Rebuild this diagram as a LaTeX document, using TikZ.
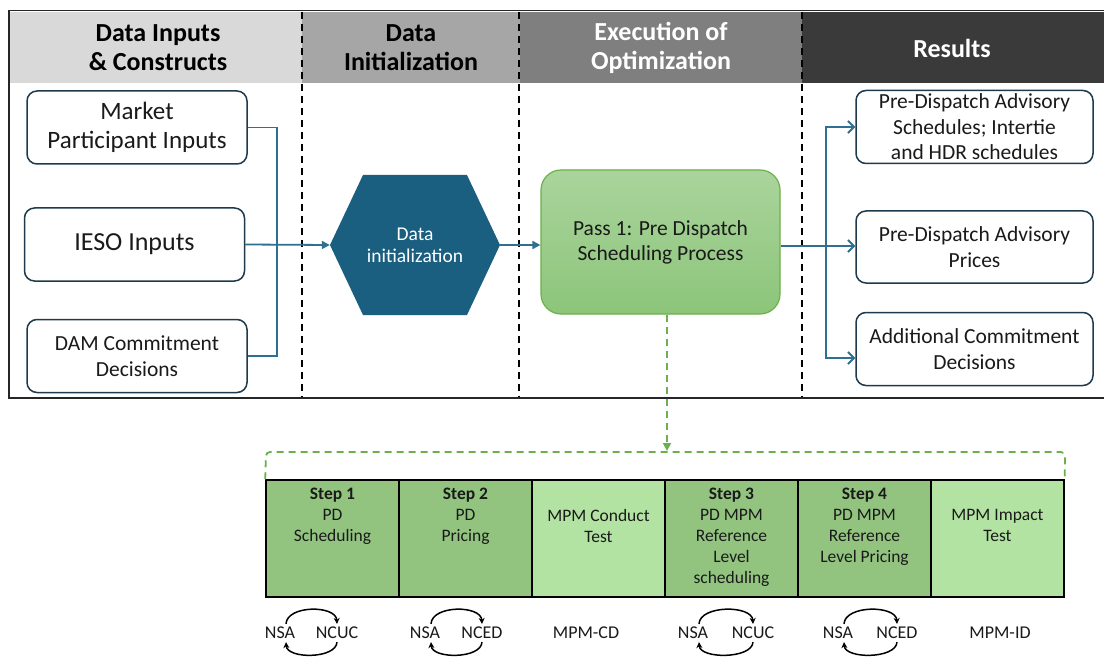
\documentclass[tikz,border=0pt]{standalone}
\usepackage{fontspec}
\setmainfont{Carlito}
\usetikzlibrary{arrows.meta,calc}
\definecolor{hdA}{HTML}{D9D9D9}
\definecolor{hdB}{HTML}{A6A6A6}
\definecolor{hdC}{HTML}{7F7F7F}
\definecolor{hdD}{HTML}{3A3A3A}
\definecolor{boxcol}{HTML}{1E3A4C}
\definecolor{linecol}{HTML}{2F6F8F}
\definecolor{hexfill}{HTML}{1A5E80}
\definecolor{greenA}{HTML}{AAD49C}
\definecolor{greenB}{HTML}{8CC57A}
\definecolor{greenE}{HTML}{6CB04B}
\definecolor{stepfill}{HTML}{92C480}
\definecolor{mpmfill}{HTML}{B3E3A2}
\definecolor{txt}{HTML}{1A1A1A}
\begin{document}
\begin{tikzpicture}[x=1pt,y=-1pt,
  hdtext/.style={font=\fontsize{26}{29}\selectfont\bfseries, align=center, inner sep=0pt},
  inbox/.style={draw=boxcol, line width=1.5pt, rounded corners=10pt, fill=white, align=center, text=txt, minimum width=220pt, minimum height=73pt, inner sep=0pt},
  resbox/.style={draw=boxcol, line width=1.5pt, rounded corners=10pt, fill=white, align=center, text=txt, minimum width=237pt, minimum height=73pt, inner sep=0pt, font=\fontsize{21.5}{25.5}\selectfont},
  conn/.style={draw=linecol, line width=1.8pt},
  fillarrow/.style={-{Triangle[length=8pt,width=8pt]}},
  openarrow/.style={-{Straight Barb[length=6pt,width=12pt,line width=1.8pt]}},
  colsep/.style={draw=black, line width=1.6pt, dash pattern=on 7pt off 5pt},
  gdash/.style={draw=greenE, line width=1.8pt, dash pattern=on 7pt off 5pt},
  stepbox/.style={draw=black, line width=1.5pt, minimum width=133pt, minimum height=117pt, inner sep=0pt},
  steptext/.style={align=center, inner sep=0pt, anchor=north, text=txt, font=\fontsize{17.5}{20.8}\selectfont},
  lbl/.style={inner sep=2pt, text=txt, font=\fontsize{18}{20}\selectfont},
  cyc/.style={draw=black, line width=1.5pt, -{Stealth[length=6pt,width=6pt]}}
]
\useasboundingbox (0,0) rectangle (1104,658);
\fill[white] (0,0) rectangle (1104,658);
% header band
\fill[hdA] (10,12) rectangle (302,83);
\fill[hdB] (302,12) rectangle (520,83);
\fill[hdC] (520,12) rectangle (802,83);
\fill[hdD] (802,12) rectangle (1104,83);
% frame
\draw[line width=1.8pt, draw=black!85] (1106,10.5) -- (9,10.5) -- (9,398) -- (1106,398);
% column separators
\draw[colsep] (302,12) -- (302,397);
\draw[colsep] (519,12) -- (519,397);
\draw[colsep] (802,12) -- (802,397);
% header texts
\node[hdtext, text=black] (h1) at (158,47.5) {Data Inputs\\\&\ Constructs};
\node[hdtext, text=black] (h2) at (411,47.5) {Data\\Initialization};
\node[hdtext, text=white] (h3) at (661,47.5) {Execution of\\Optimization};
\node[hdtext, text=white] (h4) at (952,48) {Results};
% input boxes
\node[inbox, font=\fontsize{25}{29}\selectfont] (mpi) at (137,127.5) {Market\\Participant Inputs};
\node[inbox, font=\fontsize{26}{29}\selectfont] (ieso) at (134.5,244.5) {IESO Inputs};
\node[inbox, font=\fontsize{21.5}{26}\selectfont] (dam) at (137,356) {DAM Commitment\\Decisions};
\coordinate (j) at (277,245);
\draw[conn] (mpi.east) -| (j);
\draw[conn] (dam.east) -| (j);
% hexagon
\fill[hexfill] (330,245) -- (363,175) -- (467,175) -- (500,245) -- (467,315) -- (363,315) -- cycle;
\node[text=white, align=center, minimum width=170pt, minimum height=140pt, inner sep=0pt, font=\fontsize{19.5}{22}\selectfont] (hex) at (415,245) {Data\\initialization};
\draw[conn, fillarrow] (ieso.east) -- (hex.west);
% pass 1 box
\node[draw=greenE, line width=1.2pt, rounded corners=20pt, top color=greenA, bottom color=greenB, minimum width=239pt, minimum height=144pt, inner sep=0pt, align=center, text=txt, font=\fontsize{21.5}{25}\selectfont] (pass) at (660.5,242) {Pass 1: Pre Dispatch\\Scheduling Process};
\draw[conn, fillarrow] (hex.east) -- (pass.west |- hex.east);
% result boxes
\node[resbox] (sched) at (974.5,127) {Pre-Dispatch Advisory\\Schedules; Intertie\\and HDR schedules};
\node[resbox, minimum height=72pt] (prices) at (974.5,247) {Pre-Dispatch Advisory\\Prices};
\node[resbox] (addc) at (974.5,349) {Additional Commitment\\Decisions};
\coordinate (br) at (826,246);
\draw[conn, openarrow] (pass.east |- br) -- (prices.west |- br);
\draw[conn, openarrow] (br) |- (sched.west);
\draw[conn, openarrow] (br) |- ([yshift=-9pt]addc.west);
% bottom steps
\node[stepbox, fill=stepfill] (s1) at (332.5,538.5) {};
\node[stepbox, fill=stepfill] (s2) at (465.5,538.5) {};
\node[stepbox, fill=mpmfill] (mc) at (598.5,538.5) {};
\node[stepbox, fill=stepfill] (s3) at (731.5,538.5) {};
\node[stepbox, fill=stepfill] (s4) at (864.5,538.5) {};
\node[stepbox, fill=mpmfill] (mi) at (997.5,538.5) {};
\node[steptext] (t1) at ([yshift=-9pt]s1.north) {\textbf{Step 1}\\PD\\Scheduling};
\node[steptext] (t2) at ([yshift=-9pt]s2.north) {\textbf{Step 2}\\PD\\Pricing};
\node[steptext] (t3) at ([yshift=-30pt]mc.north) {MPM Conduct\\Test};
\node[steptext] (t4) at ([yshift=-9pt]s3.north) {\textbf{Step 3}\\PD MPM\\Reference\\Level\\scheduling};
\node[steptext] (t5) at ([yshift=-9pt]s4.north) {\textbf{Step 4}\\PD MPM\\Reference\\Level Pricing};
\node[steptext] (t6) at ([yshift=-30pt]mi.north) {MPM Impact\\Test};
% green dashed link and bracket
\coordinate (bt) at (667,451);
\draw[gdash, rounded corners=4pt] (s1.north west) -- (266,452) -- (1065,452) -- (mi.north east);
\draw[gdash, -{Triangle[length=8pt,width=8pt]}] ([xshift=6.5pt]pass.south) -- (bt);
% labels and cycles
\node[lbl] (nsa1) at (280,633) {NSA};
\node[lbl] (nc1) at (337,633) {NCUC};
\node[lbl] (nsa2) at (425,633) {NSA};
\node[lbl] (nc2) at (482,633) {NCED};
\node[lbl] (cd) at (586,633) {MPM-CD};
\node[lbl] (nsa3) at (693,633) {NSA};
\node[lbl] (nc3) at (753,633) {NCUC};
\node[lbl] (nsa4) at (838,633) {NSA};
\node[lbl] (nc4) at (897,633) {NCED};
\node[lbl] (id) at (1000,633) {MPM-ID};
\foreach \a/\b in {nsa1/nc1,nsa2/nc2,nsa3/nc3,nsa4/nc4}{
  \draw[cyc] ([xshift=6pt,yshift=1pt]\a.north) .. controls +(1,-19) and +(-1,-19) .. ([yshift=1pt]\b.north);
  \draw[cyc] ([yshift=-1pt]\b.south) .. controls +(-1,17) and +(1,17) .. ([xshift=6pt,yshift=-1pt]\a.south);
}
\end{tikzpicture}
\end{document}
